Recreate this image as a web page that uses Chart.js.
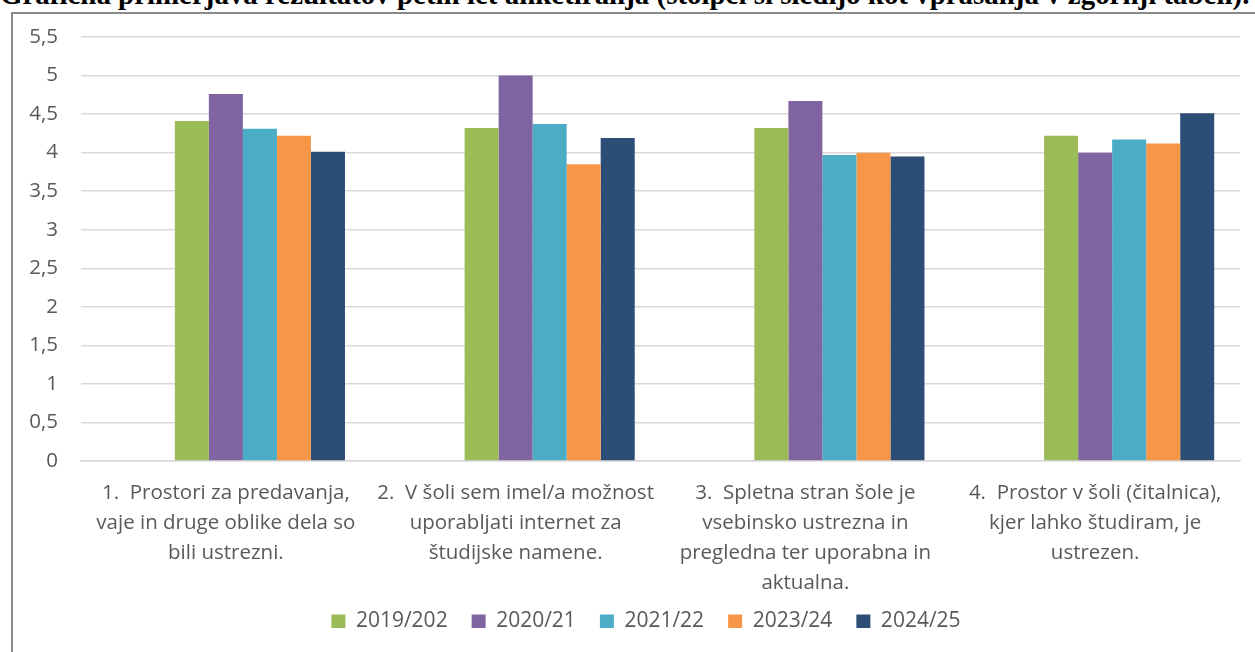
<!DOCTYPE html>
<html>
<head>
<meta charset="utf-8">
<script src="https://cdn.jsdelivr.net/npm/chart.js@4.4.1/dist/chart.umd.min.js"></script>
<style>
  html, body { margin: 0; padding: 0; width: 1255px; height: 652px; overflow: hidden; background: #fff; }
  #title { position: absolute; left: 0; top: 0; white-space: nowrap; font-family: "Liberation Serif", serif; font-weight: bold; color: #000; line-height: 1; }
  #frame { position: absolute; left: 11px; top: 12px; width: 1400px; height: 800px; border-left: 2px solid #8a8a8a; border-top: 2px solid #8a8a8a; box-sizing: border-box; }
  #wrap { position: absolute; left: 0; top: 0; width: 1255px; height: 652px; }
</style>
</head>
<body>
<div id="title">Grafična primerjava rezultatov petih let anketiranja (stolpci si sledijo kot vprašanja v zgornji tabeli).</div>
<div id="frame"></div>
<div id="wrap"><canvas id="c" width="1255" height="652"></canvas></div>
<script>
const categories = [
  ["1.  Prostori za predavanja,", "vaje in druge oblike dela so", "bili ustrezni."],
  ["2.  V šoli sem imel/a možnost", "uporabljati internet za", "študijske namene."],
  ["3.  Spletna stran šole je", "vsebinsko ustrezna in", "pregledna ter uporabna in", "aktualna."],
  ["4.  Prostor v šoli (čitalnica),", "kjer lahko študiram, je", "ustrezen."]
];
const seriesLabels = ["2019/202", "2020/21", "2021/22", "2023/24", "2024/25"];
const s2019 = [4.41, 4.32, 4.32, 4.22];
const s2020 = [4.76, 5.00, 4.67, 4.00];
const s2021 = [4.31, 4.37, 3.97, 4.17];
const s2023 = [4.22, 3.85, 4.00, 4.12];
const s2024 = [4.01, 4.19, 3.95, 4.51];
const emptySeries = [null, null, null, null];
const yTicks = [0, 0.5, 1, 1.5, 2, 2.5, 3, 3.5, 4, 4.5, 5, 5.5];
const colors = ["#9BBB59", "#8064A2", "#4BACC6", "#F79646", "#2C4D75"];

// fit title
(function(){
  const t = document.getElementById('title');
  t.style.fontSize = '20px';
  const w = t.getBoundingClientRect().width;
  const fs = 20 * 1250 / w;
  t.style.fontSize = fs + 'px';
  t.style.top = (6 - fs * 0.89) + 'px';
})();

const values = [s2019, s2020, s2021, s2023, s2024];
const datasets = [
  { label: "", data: emptySeries, backgroundColor: "#fff" },
  { label: "", data: emptySeries, backgroundColor: "#fff" }
];
seriesLabels.forEach((l, i) => datasets.push({ label: l, data: values[i], backgroundColor: colors[i], borderWidth: 0 }));

const shiftLegend = {
  id: 'shiftLegend',
  afterLayout(chart) {
    const lg = chart.legend;
    if (lg) { lg.left += 20; lg.right += 20; lg.top -= 14; lg.bottom -= 14; }
  }
};

const FONT = "'Open Sans', sans-serif";
new Chart(document.getElementById('c'), {
  type: 'bar',
  data: { labels: categories, datasets },
  plugins: [shiftLegend],
  options: {
    responsive: false,
    animation: false,
    layout: { padding: { left: 12, right: 15, top: 37, bottom: 10 } },
    datasets: { bar: { categoryPercentage: 0.822, barPercentage: 1.0 } },
    plugins: {
      legend: {
        position: 'bottom',
        maxHeight: 41,
        labels: {
          filter: (item) => item.text !== "",
          boxWidth: 14, boxHeight: 14, padding: 24,
          color: '#595959',
          font: { family: FONT, size: 21 }
        }
      },
      tooltip: { enabled: false }
    },
    scales: {
      y: {
        min: 0, max: 5.5,
        afterBuildTicks: (s) => { s.ticks = yTicks.map(v => ({ value: v })); },
        afterFit: (s) => { s.width = 69; },
        border: { display: false },
        grid: { color: '#d9d9d9', lineWidth: 1.5, drawTicks: false },
        ticks: {
          padding: 23, color: '#595959',
          font: { family: FONT, size: 20.5 },
          callback: (v) => String(v).replace('.', ',')
        }
      },
      x: {
        afterFit: (s) => { s.height = 140; },
        border: { display: true, color: '#d9d9d9', width: 1.5 },
        grid: { display: false, drawTicks: false },
        ticks: {
          padding: 17, color: '#595959', maxRotation: 0, autoSkip: false,
          font: { family: FONT, size: 20.5, lineHeight: '30px' }
        }
      }
    }
  }
});
</script>
</body>
</html>
